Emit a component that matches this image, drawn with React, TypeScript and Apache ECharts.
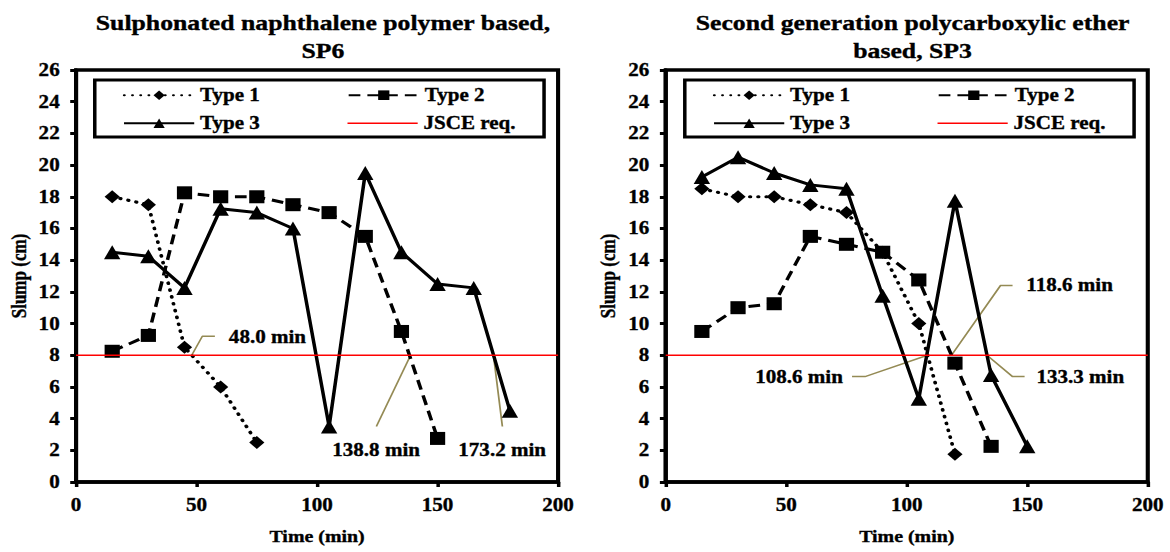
import React, { useEffect, useRef } from "react";
import * as echarts from "echarts";

// ---------- data ----------
const titleLeft = "Sulphonated naphthalene polymer based,\nSP6";
const titleRight = "Second generation polycarboxylic ether\nbased, SP3";
const xAxisName = "Time (min)";
const yAxisName = "Slump (cm)";
const seriesNames = ["Type 1", "Type 2", "Type 3", "JSCE req."];

const jsceTime = [0, 200];
const jsceSlump = [8, 8];

// left chart (SP6)
const leftTime1 = [15, 30, 45, 60, 75];
const leftSlump1 = [18, 17.5, 8.5, 6, 2.5];
const leftTime2 = [15, 30, 45, 60, 75, 90, 105, 120, 135, 150];
const leftSlump2 = [8.25, 9.25, 18.25, 18, 18, 17.5, 17, 15.5, 9.5, 2.75];
const leftTime3 = [15, 30, 45, 60, 75, 90, 105, 120, 135, 150, 165, 180];
const leftSlump3 = [14.5, 14.25, 12.25, 17.25, 17, 16, 3.5, 19.5, 14.5, 12.5, 12.25, 4.5];

// right chart (SP3)
const rightTime1 = [15, 30, 45, 60, 75, 90, 105, 120];
const rightSlump1 = [18.5, 18, 18, 17.5, 17, 14.5, 10, 1.75];
const rightTime2 = [15, 30, 45, 60, 75, 90, 105, 120, 135];
const rightSlump2 = [9.5, 11, 11.25, 15.5, 15, 14.5, 12.75, 7.5, 2.25];
const rightTime3 = [15, 30, 45, 60, 75, 90, 105, 120, 135, 150];
const rightSlump3 = [19.25, 20.5, 19.5, 18.75, 18.5, 11.75, 5.25, 17.75, 6.75, 2.25];

// callouts: leader lines in data coordinates, text anchor and alignment
const leftCalloutText = ["48.0 min", "138.8 min", "173.2 min"];
const leftCalloutLines = [
  [[48, 8], [52.4, 9.2], [57.6, 9.2]],
  [[138.8, 8], [124.6, 3.5]],
  [[173.2, 8], [176.9, 3.5]],
];
const leftCalloutAnchor = [[63.4, 9.15], [124.5, 2.0], [176.8, 2.0]];
const leftCalloutAlign = ["left", "center", "center"];

const rightCalloutText = ["118.6 min", "108.6 min", "133.3 min"];
const rightCalloutLines = [
  [[118.6, 8], [138.9, 12.4], [143.9, 12.4]],
  [[108.6, 8], [82.7, 6.65], [77.3, 6.65]],
  [[133.3, 8], [143.9, 6.65], [148.9, 6.65]],
];
const rightCalloutAnchor = [[149.6, 12.4], [73.5, 6.65], [153.8, 6.65]];
const rightCalloutAlign = ["left", "right", "left"];

// ---------- styling ----------
const FONT = "Liberation Serif, Times New Roman, serif";
const STRETCH = 1.17;
const INNER_W = 1000;
const H = 552;
const LEADER = "#948A54";
const BOLDER = { textBorderColor: "#000", textBorderWidth: 0.35 };

const zip = (xs: number[], ys: number[]) => xs.map((x, i) => [x, ys[i]]);

function buildSeries(
  idx: number,
  t1: number[], s1: number[],
  t2: number[], s2: number[],
  t3: number[], s3: number[],
  cText: string[], cLines: number[][][], cAnchor: number[][], cAlign: string[]
) {
  const axes = { xAxisIndex: idx, yAxisIndex: idx };
  const out: any[] = [];
  cLines.forEach((pts) => {
    out.push({
      type: "line", ...axes, data: pts, symbol: "none", silent: true,
      lineStyle: { color: LEADER, width: 1.5 }, z: 1,
    });
  });
  out.push({
    name: seriesNames[0], type: "line", ...axes, data: zip(t1, s1),
    symbol: "diamond", symbolSize: 13, color: "#000",
    itemStyle: { color: "#000" },
    lineStyle: { color: "#000", width: 3.2, type: [0.5, 6.5], cap: "round" },
    z: 3,
  });
  out.push({
    name: seriesNames[1], type: "line", ...axes, data: zip(t2, s2),
    symbol: "rect", symbolSize: 13, color: "#000",
    itemStyle: { color: "#000" },
    lineStyle: { color: "#000", width: 3, type: [10, 6] },
    z: 3,
  });
  out.push({
    name: seriesNames[2], type: "line", ...axes, data: zip(t3, s3),
    symbol: "triangle", symbolSize: 14, color: "#000",
    itemStyle: { color: "#000" },
    lineStyle: { color: "#000", width: 3 },
    z: 3,
  });
  out.push({
    name: seriesNames[3], type: "line", ...axes, data: zip(jsceTime, jsceSlump),
    symbol: "none", color: "#ff0000",
    itemStyle: { color: "#ff0000" },
    lineStyle: { color: "#ff0000", width: 1.5 },
    z: 4,
  });
  out.push({
    type: "scatter", ...axes, silent: true, symbolSize: 0,
    itemStyle: { color: "#000", opacity: 1 },
    data: cAnchor.map((a, i) => ({
      value: a,
      label: {
        show: true, position: "inside", formatter: cText[i], align: cAlign[i],
        verticalAlign: "middle",
        fontSize: 18, fontWeight: "bold", fontFamily: FONT, color: "#000",
        ...BOLDER,
      },
    })),
    z: 5,
  });
  return out;
}

function buildLegends(offset: number) {
  const common = {
    orient: "horizontal", padding: 0, itemWidth: 60, itemHeight: 12,
    selectedMode: false,
    textStyle: { fontSize: 18, fontWeight: "bold", fontFamily: FONT, color: "#000", ...BOLDER },
  };
  return [
    { ...common, data: [seriesNames[0]], left: 105 + offset, top: 86 },
    { ...common, data: [seriesNames[1]], left: 297 + offset, top: 86 },
    { ...common, data: [seriesNames[2]], left: 105 + offset, top: 114 },
    {
      ...common,
      data: [{ name: seriesNames[3], icon: "path://M0,0L60,0L60,1.6L0,1.6Z", itemStyle: { color: "#ff0000" } }],
      left: 297 + offset, top: 114,
    },
  ];
}

function axisX(grid: number) {
  return {
    type: "value", gridIndex: grid, min: 0, max: 200, interval: 50,
    name: xAxisName, nameLocation: "middle", nameGap: 46,
    nameTextStyle: { fontSize: 17, fontWeight: "bold", fontFamily: FONT, color: "#000", ...BOLDER },
    axisLine: { show: true, lineStyle: { color: "#000", width: 3.5 } },
    axisTick: { show: true, length: 5, lineStyle: { color: "#000", width: 3 } },
    axisLabel: { fontSize: 18, fontWeight: "bold", fontFamily: FONT, color: "#000", margin: 14, ...BOLDER },
    splitLine: { show: false },
  };
}

function axisY(grid: number) {
  return {
    type: "value", gridIndex: grid, min: 0, max: 26, interval: 2,
    name: yAxisName, nameLocation: "middle", nameGap: 40, nameRotate: 90,
    nameTextStyle: { fontSize: 17, fontWeight: "bold", fontFamily: FONT, color: "#000", ...BOLDER },
    axisLine: { show: true, lineStyle: { color: "#000", width: 3.5 } },
    axisTick: { show: true, length: 5, lineStyle: { color: "#000", width: 3 } },
    axisLabel: { fontSize: 18, fontWeight: "bold", fontFamily: FONT, color: "#000", margin: 14, ...BOLDER },
    splitLine: { show: false },
  };
}

export default function App() {
  const ref = useRef<HTMLDivElement>(null);
  useEffect(() => {
    if (!ref.current) return;
    const chart = echarts.init(ref.current, undefined, { renderer: "svg" });
    const rightOffset = 504.3;
    const titleStyle = { fontSize: 22, fontWeight: "bold", fontFamily: FONT, color: "#000", lineHeight: 28, ...BOLDER };
    chart.setOption({
      animation: false,
      backgroundColor: "#fff",
      title: [
        { text: titleLeft, left: 271, top: 4, textAlign: "center", textStyle: titleStyle },
        { text: titleRight, left: 775, top: 4, textAlign: "center", textStyle: titleStyle },
      ],
      grid: [
        { left: 65, top: 70, width: 412, height: 412, show: true, borderColor: "#000", borderWidth: 3.5, backgroundColor: "transparent" },
        { left: 569, top: 70, width: 412, height: 412, show: true, borderColor: "#000", borderWidth: 3.5, backgroundColor: "transparent" },
      ],
      xAxis: [axisX(0), axisX(1)],
      yAxis: [axisY(0), axisY(1)],
      legend: [...buildLegends(0), ...buildLegends(rightOffset)],
      graphic: [
        { type: "rect", z: 100, silent: true, shape: { x: 81, y: 80, width: 384, height: 57 }, style: { fill: "transparent", stroke: "#000", lineWidth: 3 } },
        { type: "rect", z: 100, silent: true, shape: { x: 81 + rightOffset, y: 80, width: 384, height: 57 }, style: { fill: "transparent", stroke: "#000", lineWidth: 3 } },
      ],
      series: [
        ...buildSeries(0, leftTime1, leftSlump1, leftTime2, leftSlump2, leftTime3, leftSlump3,
          leftCalloutText, leftCalloutLines, leftCalloutAnchor, leftCalloutAlign),
        ...buildSeries(1, rightTime1, rightSlump1, rightTime2, rightSlump2, rightTime3, rightSlump3,
          rightCalloutText, rightCalloutLines, rightCalloutAnchor, rightCalloutAlign),
      ],
    });
    return () => chart.dispose();
  }, []);
  return (
    <div style={{ position: "fixed", left: 0, top: 0, width: 1170, height: H, overflow: "hidden", background: "#fff" }}>
      <div
        ref={ref}
        style={{ width: INNER_W, height: H, transform: `scaleX(${STRETCH})`, transformOrigin: "0 0" }}
      />
    </div>
  );
}
